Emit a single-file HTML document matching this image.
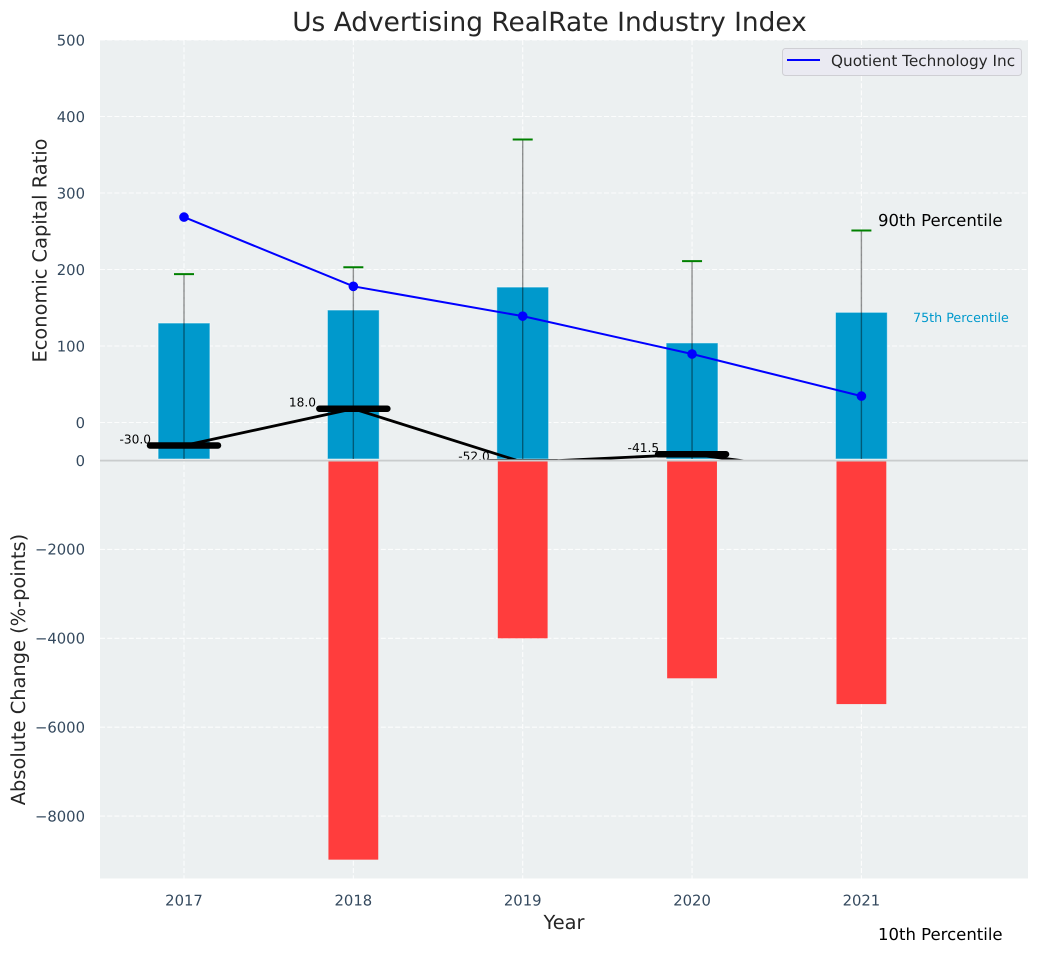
<!DOCTYPE html>
<html>
<head>
<meta charset="utf-8">
<title>Us Advertising RealRate Industry Index</title>
<style>
html,body{margin:0;padding:0;background:#fff;width:1039px;height:954px;overflow:hidden}
svg{display:block;font-family:"DejaVu Sans","Liberation Sans",sans-serif;text-rendering:geometricPrecision}
</style>
</head>
<body>
<svg id="chart" width="1039" height="954" viewBox="0 0 1039 954" xmlns="http://www.w3.org/2000/svg">
  <defs>
    <clipPath id="upper-clip"><rect x="100" y="40" width="928" height="419.5"></rect></clipPath>
    <clipPath id="lower-clip"><rect x="100" y="460" width="928" height="418.5"></rect></clipPath>
  </defs>
  <rect x="100" y="40" width="928" height="420" fill="#ecf0f1"></rect>
  <rect x="100" y="460" width="928" height="418.5" fill="#ecf0f1"></rect>
  <g id="grid"></g>
  <g id="upper" clip-path="url(#upper-clip)"></g>
  <g id="lower" clip-path="url(#lower-clip)"></g>
  <rect x="100" y="459.7" width="928" height="1.8" fill="#c9cccd"></rect>
  <g id="ticks"></g>
  <text x="549.5" y="31" text-anchor="middle" font-size="26.4" fill="#262626">Us Advertising RealRate Industry Index</text>
  <text transform="translate(46.5,250.5) rotate(-90)" text-anchor="middle" font-size="19.4" fill="#262626">Economic Capital Ratio</text>
  <text transform="translate(25,669.5) rotate(-90)" text-anchor="middle" font-size="19.4" fill="#262626">Absolute Change (%-points)</text>
  <text x="564" y="929" text-anchor="middle" font-size="19.4" fill="#262626">Year</text>
  <text x="878" y="226" font-size="16.5" fill="#000">90th Percentile</text>
  <text x="913" y="322" font-size="12.7" fill="#0099cc">75th Percentile</text>
  <text x="878" y="940" font-size="16.5" fill="#000">10th Percentile</text>
  <g>
    <rect x="782.5" y="48.5" width="239" height="27" rx="3" fill="#eaeaf2" stroke="#cfcfd4" stroke-width="1"></rect>
    <line x1="787" y1="60" x2="820" y2="60" stroke="#0000ff" stroke-width="2"></line>
    <text x="831" y="66" font-size="15.28" fill="#262626">Quotient Technology Inc</text>
  </g>
</svg>
<script>
const years = [2017, 2018, 2019, 2020, 2021];
const p75Values = [130, 147, 177, 104, 144];
const p90Values = [194, 203, 370, 211, 251];
const companyValues = [268.5, 178, 139, 89.5, 34.5];
const medianValues = [-30, 18, -52, -41.5, -70];
const medianLabels = ['-30.0', '18.0', '-52.0', '-41.5', '-70.0'];
const changeValues = [0, -8980, -4000, -4900, -5480];
const upperTicks = [0, 100, 200, 300, 400, 500];
const lowerTicks = [0, -2000, -4000, -6000, -8000];

const NS = 'http://www.w3.org/2000/svg';
const xScale = v => 184 + (v - 2017) * 169.35;
const yUpper = v => 422.5 - v * 0.765;
const yLower = v => 460.5 - v * 0.04445;
const BAR_WIDTH = 0.3;

function make(parent, tag, attrs, text) {
  const el = document.createElementNS(NS, tag);
  for (const k in attrs) el.setAttribute(k, attrs[k]);
  if (text !== undefined) el.textContent = text;
  parent.appendChild(el);
  return el;
}
const grid = document.getElementById('grid');
const upper = document.getElementById('upper');
const lower = document.getElementById('lower');
const ticks = document.getElementById('ticks');
const dash = {stroke: '#ffffff', 'stroke-opacity': 0.85, 'stroke-width': 1.1, 'stroke-dasharray': '5 2.2'};

upperTicks.forEach(t => {
  const l = make(grid, 'line', {x1: 100, x2: 1028, y1: yUpper(t), y2: yUpper(t), ...dash});
  
  
  const s = make(ticks, 'text', {x: 85, y: yUpper(t) + 5.3, 'text-anchor': 'end', 'font-size': 14.8, fill: '#34495e'}, String(t));
  
  
});
lowerTicks.forEach(t => {
  if (t !== 0) {
    const l = make(grid, 'line', {x1: 100, x2: 1028, y1: yLower(t), y2: yLower(t), ...dash});
    
    
  }
  const s = make(ticks, 'text', {x: 85, y: yLower(t) + 5.3, 'text-anchor': 'end', 'font-size': 14.8, fill: '#34495e'}, String(t).replace('-', '\u2212'));
  
  
});
years.forEach(y => {
  const l = make(grid, 'line', {x1: xScale(y), x2: xScale(y), y1: 40, y2: 878.5, ...dash});
  
  
  const s = make(ticks, 'text', {x: xScale(y), y: 905.3, 'text-anchor': 'middle', 'font-size': 14.8, fill: '#34495e'}, String(y));
  
  
});

const barHalf = (xScale(BAR_WIDTH) - xScale(0)) / 2;
years.forEach((y, i) => {
  const top = yUpper(p75Values[i]);
  const b = make(upper, 'rect', {x: xScale(y) - barHalf - 0.5, y: top, width: barHalf * 2 + 1, height: 459 - top, fill: '#0099cc', stroke: '#ffffff', 'stroke-opacity': 0.5, 'stroke-width': 1});
  
  

  const e = make(upper, 'line', {x1: xScale(y), x2: xScale(y), y1: yUpper(p90Values[i]), y2: 459, stroke: '#000000', 'stroke-opacity': 0.42, 'stroke-width': 1.4});
  
  

  const c = make(upper, 'line', {x1: xScale(y) - 10, x2: xScale(y) + 10, y1: yUpper(p90Values[i]), y2: yUpper(p90Values[i]), stroke: '#008000', 'stroke-width': 2});
  
  

  const top2 = yLower(0);
  const h = yLower(changeValues[i]) - top2;
  if (h > 0) {
    const r = make(lower, 'rect', {x: xScale(y) - barHalf + 0.5, y: top2, width: barHalf * 2 - 1, height: h, fill: '#ff3d3d'});
    
    
  }
});

const companyLine = make(upper, 'polyline', {points: years.map((y, i) => xScale(y) + ',' + yUpper(companyValues[i])).join(' '), fill: 'none', stroke: '#0000ff', 'stroke-width': 2});


years.forEach((y, i) => {
  const d = make(upper, 'circle', {cx: xScale(y), cy: yUpper(companyValues[i]), r: 4.8, fill: '#0000ff'});
  
  
});

const medianLine = make(upper, 'polyline', {points: years.map((y, i) => xScale(y) + ',' + yUpper(medianValues[i])).join(' '), fill: 'none', stroke: '#000000', 'stroke-width': 2.8});


years.forEach((y, i) => {
  const m = make(upper, 'line', {x1: xScale(y) - 34, x2: xScale(y) + 34, y1: yUpper(medianValues[i]), y2: yUpper(medianValues[i]), stroke: '#000000', 'stroke-width': 6.5, 'stroke-linecap': 'round'});
  
  
  const t = make(upper, 'text', {x: xScale(y) - 64.5, y: yUpper(medianValues[i]) - 2, 'text-anchor': 'start', 'font-size': 12.2, fill: '#000000'}, medianLabels[i]);
  
  
});
</script>
</body>
</html>
